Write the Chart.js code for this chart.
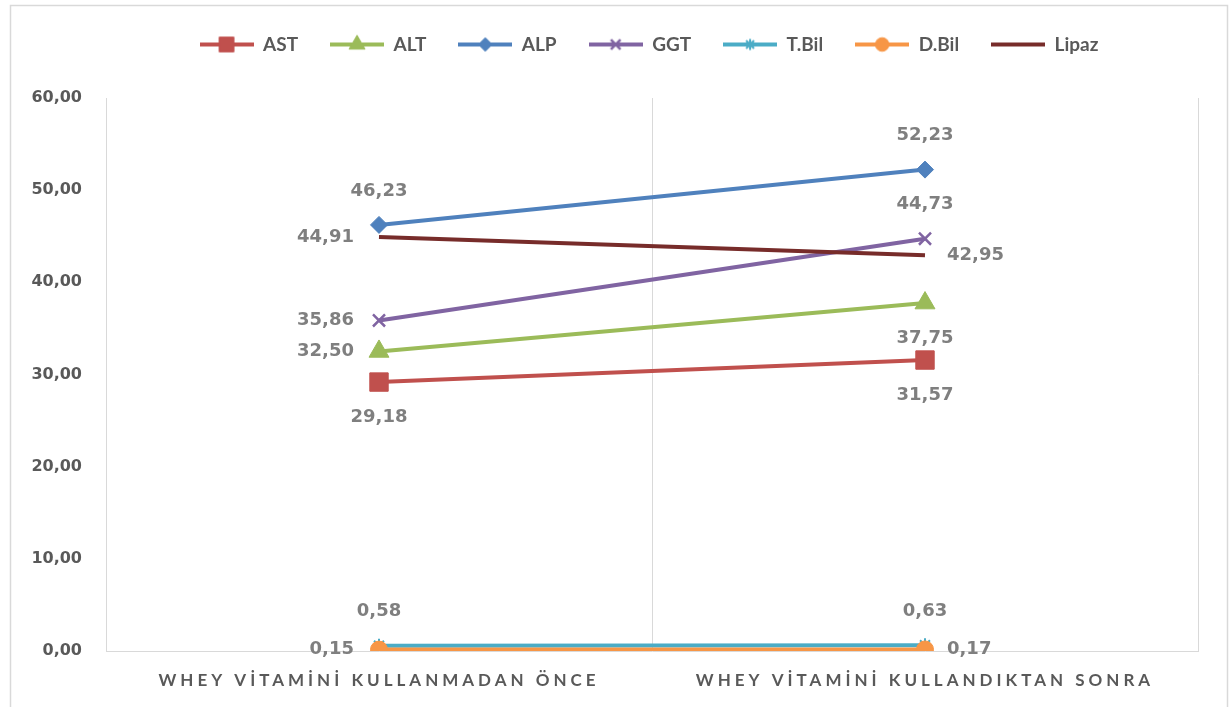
<!DOCTYPE html>
<html><head><meta charset="utf-8">
<script src="https://cdn.jsdelivr.net/npm/chart.js@4/dist/chart.umd.min.js"></script>
<style>html,body{margin:0;padding:0;background:#fff;}#wrap{position:relative;width:1231px;height:707px;}</style>
</head><body><div id="wrap"><canvas id="c" width="1231" height="707"></canvas></div>
<script>
// ---- data ----
const categories = ['WHEY VİTAMİNİ KULLANMADAN ÖNCE', 'WHEY VİTAMİNİ KULLANDIKTAN SONRA'];
const seriesNames = ['AST', 'ALT', 'ALP', 'GGT', 'T.Bil', 'D.Bil', 'Lipaz'];
const astValues = [29.18, 31.57];
const altValues = [32.50, 37.75];
const alpValues = [46.23, 52.23];
const ggtValues = [35.86, 44.73];
const tbilValues = [0.58, 0.63];
const dbilValues = [0.15, 0.17];
const lipazValues = [44.91, 42.95];
const yMin = 0, yMax = 60, yStep = 10;

// ---- styles ----
const seriesValues = [astValues, altValues, alpValues, ggtValues, tbilValues, dbilValues, lipazValues];
const styles = [
  {color: '#C0504D', point: 'rect', radius: 13, fill: true, bw: 1},
  {color: '#9BBB59', point: 'triangle', radius: 11.5, fill: true, bw: 1},
  {color: '#4F81BD', point: 'rectRot', radius: 8.5, fill: true, bw: 1},
  {color: '#8064A2', point: 'crossRot', radius: 8.5, fill: false, bw: 2.5},
  {color: '#4BACC6', point: 'star', radius: 7, fill: false, bw: 2},
  {color: '#F79646', point: 'circle', radius: 8.5, fill: true, bw: 1},
  {color: '#772C2A', point: false, radius: 0, fill: true, bw: 0}
];
const labelPos = [['below','below'],['left','below'],['above','above'],['left','above'],['above','above'],['left','right'],['left','right']];
const LEGEND_EXTRA = 34;
const LEGEND_SHIFT = 50;

function fmt(v) { return v.toFixed(2).replace('.', ','); }

function legendIcon(i) {
  const s = styles[i];
  const cv = document.createElement('canvas');
  cv.width = 54; cv.height = 22;
  const c = cv.getContext('2d');
  c.strokeStyle = s.color; c.lineWidth = 4;
  c.beginPath(); c.moveTo(0, 11); c.lineTo(54, 11); c.stroke();
  if (s.point) {
    c.fillStyle = s.fill ? s.color : 'rgba(0,0,0,0)';
    c.strokeStyle = s.color;
    c.lineWidth = s.bw;
    Chart.helpers.drawPoint(c, {pointStyle: s.point, radius: s.radius * 0.8, rotation: 0, borderWidth: s.bw}, 27, 11);
  }
  return cv;
}

const datasets = seriesNames.map((name, i) => {
  const s = styles[i];
  return {
    label: name,
    data: seriesValues[i],
    borderColor: s.color,
    backgroundColor: s.color,
    borderWidth: 4,
    pointStyle: s.point || 'circle',
    pointRadius: s.radius,
    pointHoverRadius: s.radius,
    pointBorderWidth: s.bw,
    pointBackgroundColor: s.fill ? s.color : 'rgba(0,0,0,0)',
    pointBorderColor: s.color,
    tension: 0,
    order: seriesNames.length - i
  };
});

const framePlugin = {
  id: 'frame',
  beforeDraw(chart) {
    const ctx = chart.ctx;
    ctx.save();
    ctx.fillStyle = '#fff';
    ctx.fillRect(0, 0, chart.width, chart.height);
    ctx.strokeStyle = '#d9d9d9';
    ctx.lineWidth = 1.5;
    ctx.strokeRect(10.5, 5.5, 1217, 720);
    ctx.restore();
  }
};

const patchPlugin = {
  id: 'patch',
  beforeLayout(chart) {
    const lg = chart.legend;
    if (lg && !lg._patched) {
      const f = lg.fit.bind(lg);
      lg.fit = function () { f(); this.height += LEGEND_EXTRA; };
      const d = lg.draw.bind(lg);
      lg.draw = function () { const c = this.ctx; c.save(); c.translate(LEGEND_SHIFT, 0); d(); c.restore(); };
      lg._patched = true;
    }
  },
  afterUpdate(chart) {
    const s = chart.scales.x;
    if (s && !s._patched) {
      const o = s.drawLabels.bind(s);
      s.drawLabels = function (a) { const c = this.ctx; c.save(); c.letterSpacing = '4px'; o(a); c.restore(); };
      s._patched = true;
    }
  }
};

const dataLabelPlugin = {
  id: 'dl',
  afterDatasetsDraw(chart) {
    const ctx = chart.ctx;
    ctx.save();
    ctx.font = 'bold 18px "DejaVu Sans"';
    ctx.fillStyle = '#7F7F7F';
    ctx.textBaseline = 'middle';
    chart.data.datasets.forEach((ds, i) => {
      const meta = chart.getDatasetMeta(i);
      meta.data.forEach((pt, j) => {
        const txt = fmt(ds.data[j]);
        const pos = labelPos[i][j];
        let x = pt.x, y = pt.y;
        if (pos === 'above') { ctx.textAlign = 'center'; y -= 34; }
        else if (pos === 'below') { ctx.textAlign = 'center'; y += 35; }
        else if (pos === 'left') { ctx.textAlign = 'right'; x -= 25; }
        else { ctx.textAlign = 'left'; x += 22; }
        ctx.fillText(txt, x, y);
      });
    });
    ctx.restore();
  }
};

new Chart(document.getElementById('c'), {
  type: 'line',
  data: {labels: categories, datasets: datasets},
  plugins: [framePlugin, patchPlugin, dataLabelPlugin],
  options: {
    responsive: false,
    animation: false,
    layout: {padding: {left: 0, right: 33, top: 3, bottom: 0}},
    plugins: {
      tooltip: {enabled: false},
      legend: {
        display: true,
        position: 'top',
        labels: {
          usePointStyle: true,
          pointStyleWidth: 54,
          padding: 32,
          color: '#595959',
          font: {family: 'Lato', weight: 'bold', size: 19},
          generateLabels: (chart) => chart.data.datasets.map((ds, i) => ({
            text: ds.label, pointStyle: legendIcon(i), datasetIndex: i,
            fontColor: '#595959', hidden: false, lineWidth: 0,
            strokeStyle: 'rgba(0,0,0,0)', fillStyle: 'rgba(0,0,0,0)'
          }))
        }
      }
    },
    scales: {
      x: {
        type: 'category',
        offset: true,
        grid: {display: true, offset: true, color: '#d9d9d9', lineWidth: 1, drawTicks: false},
        border: {display: true, color: '#d9d9d9', width: 1},
        ticks: {color: '#595959', font: {family: 'Lato', weight: 'bold', size: 17}, padding: 19, maxRotation: 0, autoSkip: false},
        afterFit: (s) => { s.height = 56; }
      },
      y: {
        min: yMin, max: yMax,
        grid: {display: false, drawTicks: false},
        border: {display: true, color: '#d9d9d9', width: 1},
        ticks: {stepSize: yStep, color: '#595959', font: {family: 'DejaVu Sans', weight: 'bold', size: 16}, padding: 24, callback: (v) => fmt(v)},
        afterFit: (s) => { s.width = 106; }
      }
    }
  }
});
</script></body></html>
